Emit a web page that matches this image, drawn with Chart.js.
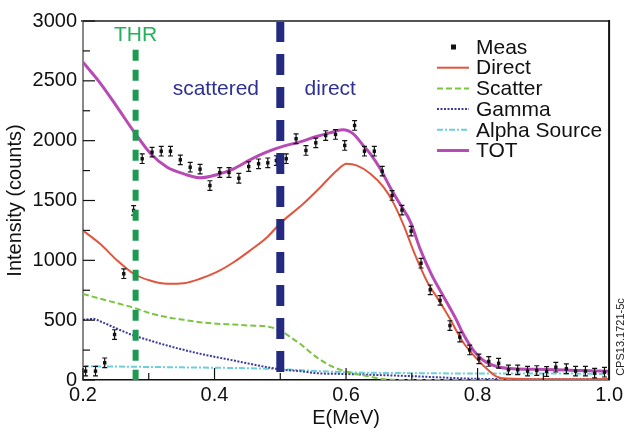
<!DOCTYPE html>
<html lang="en">
<head>
<meta charset="UTF-8">
<title>Intensity vs E(MeV)</title>
<script src="https://cdn.jsdelivr.net/npm/chart.js"></script>
<style>
  body { margin: 0; background: #fff; }
  canvas { display: block; }
</style>
</head>
<body>
<canvas id="spec" width="626" height="440"></canvas>
<script>
  // measured points (E in MeV, counts)
  const measE = [0.204,0.219,0.233,0.248,0.262,0.277,0.290,0.305,0.319,0.333,0.348,0.363,0.378,0.393,0.408,
                 0.422,0.437,0.452,0.467,0.481,0.494,0.509,0.524,0.539,0.554,0.569,0.584,0.598,0.613,0.628,
                 0.643,0.655,0.670,0.685,0.699,0.714,0.728,0.743,0.758,0.773,0.788,0.802,0.817,0.832,0.847,
                 0.861,0.876,0.890,0.905,0.919,0.935,0.949,0.964,0.978,0.993];
  const measY = [74,74,144,380,888,1417,1849,1904,1912,1912,1840,1778,1762,1625,1734,
                 1734,1686,1784,1807,1815,1834,1849,2016,1918,1982,2043,2052,1960,2127,1912,
                 1912,1745,1542,1420,1244,976,754,665,455,358,251,177,155,140,85,
                 85,74,79,71,107,94,74,74,57,65];
  const measErr = 40;

  // fit components
  const directE = [0.200,0.226,0.252,0.277,0.302,0.328,0.353,0.378,0.403,0.429,0.454,0.480,0.500,0.535,0.561,
                   0.586,0.601,0.616,0.637,0.657,0.672,0.687,0.705,0.723,0.743,0.758,0.778,0.799,0.817,0.829,
                   0.844,0.900,1.000];
  const directY = [1249,1138,999,888,831,804,809,846,901,984,1082,1193,1310,1472,1611,
                   1751,1807,1793,1723,1611,1480,1300,1045,825,650,511,316,177,79,29,
                   12,6,8];

  const scatterE = [0.200,0.226,0.252,0.277,0.302,0.328,0.353,0.378,0.403,0.429,0.454,0.480,0.500,0.515,0.530,
                    0.555,0.578,0.601,0.626,0.657,0.700,1.000];
  const scatterY = [720,679,642,604,558,525,503,483,470,464,455,447,414,360,303,
                    191,115,70,40,8,0,0];

  const gammaE = [0.200,0.216,0.226,0.252,0.277,0.302,0.328,0.353,0.378,0.403,0.429,0.454,0.480,0.505,0.530,
                  0.555,0.600,0.700,0.800,0.900,1.000];
  const gammaY = [503,511,491,428,372,330,288,252,219,191,163,135,107,85,74,
                  57,50,32,10,6,5];

  const alphaE = [0.200,0.330,0.480,0.600,0.700,0.800,0.900,1.000];
  const alphaY = [115,107,94,65,57,55,55,50];

  const totE = [0.200,0.227,0.252,0.278,0.303,0.328,0.353,0.378,0.404,0.429,0.454,0.479,0.505,0.530,0.555,
                0.575,0.595,0.611,0.626,0.637,0.652,0.667,0.682,0.698,0.713,0.730,0.748,0.768,0.778,0.794,
                0.809,0.829,0.854,0.905,0.956,1.000];
  const totY = [2656,2475,2280,2071,1890,1778,1723,1690,1717,1765,1840,1904,1954,1990,2035,
                2065,2091,2057,1960,1890,1765,1611,1470,1320,1090,880,700,500,386,246,
                163,113,94,88,79,74];

  // threshold / region boundary markers
  const thrE = 0.28, thrTop = 2760;
  const splitE = 0.5, splitTop = 3000;

  const xTicks = [0.2, 0.4, 0.6, 0.8, 1.0];
  const yTicks = [0, 500, 1000, 1500, 2000, 2500, 3000];

  const FONT = '"Liberation Sans", Arial, sans-serif';

  function pts(xs, ys) {
    return xs.map((x, i) => ({ x: x, y: ys[i] }));
  }

  // error bars on the measured points
  const errorBars = {
    id: 'errorBars',
    afterDatasetDraw(chart, args) {
      const ds = chart.data.datasets[args.index];
      if (ds.label !== 'Meas') return;
      const ctx = chart.ctx;
      const ys = chart.scales.y;
      ctx.save();
      ctx.strokeStyle = '#111';
      ctx.lineWidth = 1.2;
      args.meta.data.forEach((p, i) => {
        const top = ys.getPixelForValue(measY[i] + measErr);
        const bot = ys.getPixelForValue(measY[i] - measErr);
        ctx.beginPath();
        ctx.moveTo(p.x, top); ctx.lineTo(p.x, bot);
        ctx.moveTo(p.x - 2.5, top); ctx.lineTo(p.x + 2.5, top);
        ctx.moveTo(p.x - 2.5, bot); ctx.lineTo(p.x + 2.5, bot);
        ctx.stroke();
      });
      ctx.restore();
    }
  };

  // frame, inward ticks, notes, legend
  const decorations = {
    id: 'decorations',
    afterDraw(chart) {
      const ctx = chart.ctx;
      const a = chart.chartArea;
      const xs = chart.scales.x, ys = chart.scales.y;
      ctx.save();

      // top and right frame
      ctx.lineWidth = 2;
      ctx.strokeStyle = '#555';
      ctx.beginPath(); ctx.moveTo(a.left - 2, a.top); ctx.lineTo(a.right, a.top); ctx.stroke();
      ctx.strokeStyle = '#111';
      ctx.beginPath(); ctx.moveTo(a.right, a.top - 1); ctx.lineTo(a.right, a.bottom); ctx.stroke();

      // ticks pointing into the plot
      ctx.strokeStyle = '#111';
      ctx.lineWidth = 1.2;
      for (let v = 0; v <= 3000; v += 250) {
        const py = ys.getPixelForValue(v);
        const len = v % 500 === 0 ? 12 : 7;
        ctx.beginPath(); ctx.moveTo(a.left, py); ctx.lineTo(a.left + len, py); ctx.stroke();
      }
      for (let k = 2; k <= 10; k++) {
        const px = xs.getPixelForValue(k / 10);
        const len = k % 2 === 0 ? 12 : 7;
        ctx.beginPath(); ctx.moveTo(px, a.bottom); ctx.lineTo(px, a.bottom - len); ctx.stroke();
      }

      // region notes
      ctx.textAlign = 'center';
      ctx.textBaseline = 'middle';
      ctx.font = '21px ' + FONT;
      ctx.fillStyle = '#22b15a';
      ctx.fillText('THR', xs.getPixelForValue(0.28), ys.getPixelForValue(2880));
      ctx.fillStyle = '#2e3192';
      ctx.fillText('scattered', xs.getPixelForValue(0.402), ys.getPixelForValue(2430));
      ctx.fillText('direct', xs.getPixelForValue(0.576), ys.getPixelForValue(2430));

      // figure id
      ctx.save();
      ctx.translate(621, 337);
      ctx.rotate(-Math.PI / 2);
      ctx.font = '11px ' + FONT;
      ctx.fillStyle = '#222';
      ctx.fillText('CPS13.1721-5c', 0, 0);
      ctx.restore();

      // legend
      ctx.textAlign = 'left';
      ctx.font = '21px ' + FONT;
      let row = 0;
      chart.data.datasets.forEach(ds => {
        if (ds.noLegend) return;
        const y = 47 + row * 20.7;
        if (ds.label === 'Meas') {
          ctx.fillStyle = '#111';
          ctx.fillRect(451, y - 2.5, 5, 5);
        } else {
          ctx.strokeStyle = ds.borderColor;
          ctx.lineWidth = ds.borderWidth;
          ctx.setLineDash(ds.borderDash || []);
          ctx.beginPath(); ctx.moveTo(437, y); ctx.lineTo(469, y); ctx.stroke();
          ctx.setLineDash([]);
        }
        ctx.fillStyle = '#111';
        ctx.fillText(ds.label, 476, y + 1);
        row++;
      });
      ctx.restore();
    }
  };

  const curve = { showLine: true, pointRadius: 0, cubicInterpolationMode: 'monotone', fill: false };

  new Chart(document.getElementById('spec'), {
    type: 'scatter',
    data: {
      datasets: [
        { label: 'thr', noLegend: true, data: [{ x: thrE, y: thrTop }, { x: thrE, y: 0 }],
          showLine: true, pointRadius: 0, borderColor: '#1c9a52', borderWidth: 6, borderDash: [11, 9] },
        { label: 'split', noLegend: true, data: [{ x: splitE, y: splitTop }, { x: splitE, y: 0 }],
          showLine: true, pointRadius: 0, borderColor: '#232a80', borderWidth: 8, borderDash: [21, 12] },
        { label: 'Meas', data: pts(measE, measY), showLine: false, pointStyle: 'rect',
          pointRadius: 2.4, backgroundColor: '#111', borderColor: '#111', borderWidth: 0 },
        Object.assign({ label: 'Direct', data: pts(directE, directY), borderColor: '#e0553d', borderWidth: 2 }, curve),
        Object.assign({ label: 'Scatter', data: pts(scatterE, scatterY), borderColor: '#7cc444', borderWidth: 2,
          borderDash: [6, 3] }, curve),
        Object.assign({ label: 'Gamma', data: pts(gammaE, gammaY), borderColor: '#3c3c9c', borderWidth: 2,
          borderDash: [2, 1.5] }, curve),
        Object.assign({ label: 'Alpha Source', data: pts(alphaE, alphaY), borderColor: '#6ccfdc', borderWidth: 2,
          borderDash: [6, 2, 2, 2] }, curve),
        Object.assign({ label: 'TOT', data: pts(totE, totY), borderColor: '#b84ab6', borderWidth: 3 }, curve)
      ]
    },
    options: {
      responsive: false,
      animation: false,
      devicePixelRatio: 1,
      layout: { padding: { top: 21, right: 15, left: 0, bottom: 0 } },
      plugins: { legend: { display: false }, tooltip: { enabled: false } },
      scales: {
        x: {
          type: 'linear', min: 0.2, max: 1.0,
          afterBuildTicks: s => { s.ticks = xTicks.map(v => ({ value: v })); },
          afterFit: s => { s.height = 60; },
          grid: { display: false, drawTicks: false },
          border: { display: true, color: '#111', width: 1.5 },
          ticks: { padding: 3, color: '#111', font: { family: FONT, size: 20 },
                   callback: v => Number(v).toFixed(1) },
          title: { display: true, text: 'E(MeV)', color: '#111',
                   font: { family: FONT, size: 20 }, padding: { top: 0, bottom: 10 } }
        },
        y: {
          type: 'linear', min: 0, max: 3000,
          afterBuildTicks: s => { s.ticks = yTicks.map(v => ({ value: v })); },
          afterFit: s => { s.width = 83; },
          grid: { display: false, drawTicks: false },
          border: { display: true, color: '#888', width: 2 },
          ticks: { padding: 6, color: '#111', font: { family: FONT, size: 20 },
                   callback: v => String(v) },
          title: { display: true, text: 'Intensity (counts)', color: '#111',
                   font: { family: FONT, size: 20 }, padding: { top: 3, bottom: 0 } }
        }
      }
    },
    plugins: [errorBars, decorations]
  });
</script>
</body>
</html>
